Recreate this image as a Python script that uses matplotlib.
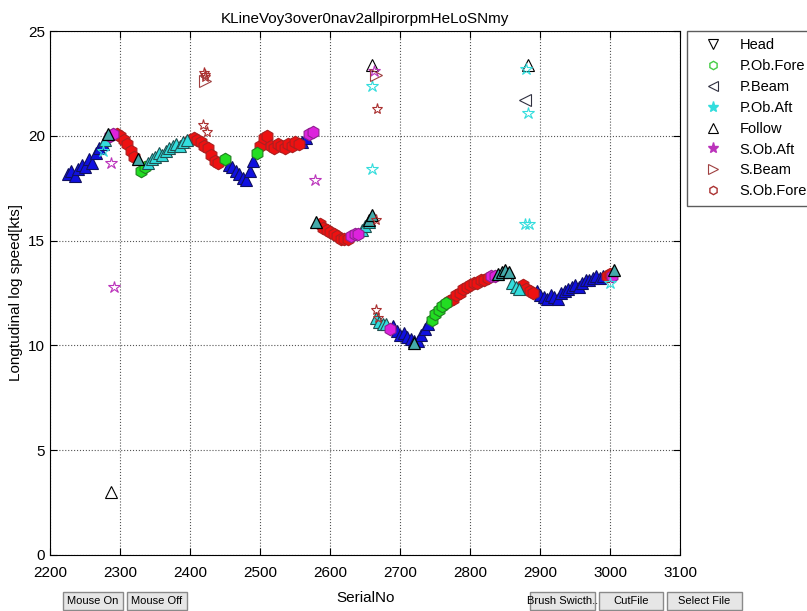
import matplotlib
matplotlib.use("Agg")
import matplotlib.pyplot as plt
from matplotlib.lines import Line2D
from matplotlib.patches import Rectangle

plt.rcParams["font.family"] = ["Liberation Sans", "DejaVu Sans"]

TITLE = "KLineVoy3over0nav2allpirorpmHeLoSNmy"

# main trace, grouped by the colour it is drawn in
blue_x = [2225, 2230, 2235, 2240, 2245, 2250, 2255, 2260, 2265, 2270, 2275,
          2455, 2460, 2465, 2470, 2475, 2480, 2485, 2490, 2560, 2565,
          2690, 2695, 2700, 2705, 2710, 2715, 2720, 2725, 2730, 2735, 2740,
          2895, 2900, 2905, 2910, 2915, 2920, 2925, 2930, 2935, 2940, 2945,
          2950, 2955, 2960, 2965, 2970, 2975, 2980, 2985, 2990]
blue_y = [18.2, 18.3, 18.1, 18.4, 18.6, 18.5, 18.9, 18.7, 19.2, 19.4, 19.6,
          18.6, 18.5, 18.3, 18.2, 18.0, 17.9, 18.3, 18.8, 19.7, 19.9,
          10.9, 10.7, 10.5, 10.6, 10.4, 10.3, 10.2, 10.2, 10.5, 10.8, 11.0,
          12.6, 12.4, 12.3, 12.2, 12.4, 12.3, 12.2, 12.5, 12.6, 12.7, 12.8,
          12.9, 12.8, 13.0, 13.1, 13.1, 13.2, 13.3, 13.2, 13.3]

red_x = [2295, 2300, 2305, 2310, 2315, 2320,
         2400, 2405, 2410, 2415, 2420, 2425, 2430, 2435, 2440,
         2500, 2505, 2510, 2515, 2520, 2525, 2530, 2535, 2540, 2545, 2550, 2555,
         2585, 2590, 2595, 2600, 2605, 2610, 2615, 2620, 2625,
         2770, 2775, 2780, 2785, 2790, 2795, 2800, 2805, 2810, 2815, 2820, 2825,
         2875, 2880, 2885, 2890, 2995, 3000]
red_y = [20.1, 20.0, 19.8, 19.6, 19.3, 19.0,
         19.8, 19.9, 19.8, 19.7, 19.5, 19.4, 19.1, 18.8, 18.7,
         19.5, 19.9, 20.0, 19.5, 19.4, 19.6, 19.5, 19.4, 19.6, 19.5, 19.7, 19.6,
         15.8, 15.6, 15.5, 15.4, 15.3, 15.2, 15.1, 15.1, 15.1,
         12.1, 12.2, 12.4, 12.5, 12.7, 12.8, 12.9, 13.0, 13.0, 13.1, 13.1, 13.2,
         12.9, 12.7, 12.6, 12.5, 13.3, 13.4]

green_x = [2330, 2335, 2450, 2495, 2745, 2750, 2755, 2760, 2765]
green_y = [18.3, 18.5, 18.9, 19.2, 11.2, 11.5, 11.7, 11.9, 12.0]

cyan_x = [2278, 2340, 2345, 2350, 2355, 2360, 2365, 2370, 2375, 2380, 2385,
          2390, 2395, 2645, 2650, 2655, 2665, 2670, 2675, 2680, 2860, 2865, 2870]
cyan_y = [19.8, 18.7, 18.9, 19.0, 19.2, 19.1, 19.3, 19.4, 19.5, 19.6, 19.5,
          19.7, 19.8, 15.5, 15.7, 15.9, 11.3, 11.1, 11.0, 11.0, 13.0, 12.8, 12.7]

magenta_x = [2285, 2290, 2570, 2575, 2630, 2635, 2640, 2685, 2830, 2835, 3003]
magenta_y = [20.0, 20.1, 20.1, 20.2, 15.2, 15.3, 15.3, 10.8, 13.3, 13.3, 13.3]

black_x = [2283, 2325, 2580, 2655, 2660, 2840, 2845, 2850, 2855, 2720, 3005]
black_y = [20.1, 18.9, 15.9, 16.0, 16.2, 13.4, 13.5, 13.6, 13.5, 10.1, 13.6]

# scattered points drawn in legend style
follow_x = [2287, 2660, 2882]
follow_y = [3.0, 23.4, 23.4]
sobaft_x = [2292, 2287, 2578, 2663]
sobaft_y = [12.8, 18.7, 17.9, 23.1]
pobaft_x = [2660, 2660, 2880, 2883, 2878, 2884, 3000, 2275]
pobaft_y = [22.4, 18.4, 23.2, 21.1, 15.8, 15.8, 13.0, 19.3]
sobfore_x = [2420, 2422, 2421, 2418, 2424, 2667, 2666, 2665, 2668]
sobfore_y = [23.0, 22.8, 22.9, 20.5, 20.2, 21.3, 16.0, 11.7, 11.3]
sbeam_x = [2665, 2421]
sbeam_y = [22.9, 22.6]
pbeam_x = [2878]
pbeam_y = [21.7]

legend_labels = ["Head", "P.Ob.Fore", "P.Beam", "P.Ob.Aft",
                 "Follow", "S.Ob.Aft", "S.Beam", "S.Ob.Fore"]

# GUI buttons under the plot: label, left px, width px
buttons = [("Mouse On", 63, 60), ("Mouse Off", 127, 60),
           ("Brush Swicth..", 530, 65), ("CutFile", 599, 64),
           ("Select File", 667, 75)]

W, H = 807, 611
fig = plt.figure(figsize=(W / 100, H / 100), dpi=100)
ax = fig.add_axes([0.062, 0.092, 0.781, 0.857])

ms = 9
ax.plot(blue_x, blue_y, "^", ms=ms, mfc="#1010e0", mec="#101060", mew=0.8)
ax.plot(red_x, red_y, "h", ms=ms, mfc="#ee1111", mec="#aa2020", mew=0.8)
ax.plot(green_x, green_y, "h", ms=ms, mfc="#22dd22", mec="#208020", mew=0.8)
ax.plot(cyan_x, cyan_y, "^", ms=ms, mfc="#33dddd", mec="#205050", mew=0.8)
ax.plot(magenta_x, magenta_y, "h", ms=ms, mfc="#dd22dd", mec="#902090", mew=0.8)
ax.plot(black_x, black_y, "^", ms=ms, mfc="#44aaaa", mec="black", mew=0.9)

ax.plot(follow_x, follow_y, "^", ms=8, mfc="none", mec="black", mew=0.8)
ax.plot(sobaft_x, sobaft_y, "*", ms=9, color="#bb33bb", mew=0.8, mfc="none")
ax.plot(pobaft_x, pobaft_y, "*", ms=9, color="#33dddd", mew=0.8, mfc="none")
ax.plot(sobfore_x, sobfore_y, "*", ms=8, mfc="none", mec="#aa3030", mew=0.8)
ax.plot(sbeam_x, sbeam_y, ">", ms=8, mfc="none", mec="#a04040", mew=0.8)
ax.plot(pbeam_x, pbeam_y, "<", ms=8, mfc="none", mec="#303040", mew=0.8)

ax.set_xlim(2200, 3100)
ax.set_ylim(0, 25)
ax.set_xticks(range(2200, 3101, 100))
ax.set_yticks(range(0, 26, 5))
ax.grid(True, ls=":", color="#555555", lw=0.8)
ax.tick_params(direction="in", labelsize=11, length=5, top=True, right=True)
ax.tick_params(axis="x", pad=8)
ax.set_xlabel("SerialNo", fontsize=11, labelpad=8)
ax.set_ylabel("Longtudinal log speed[kts]", fontsize=11)
ax.set_title(TITLE, fontsize=11)

handles = [
    Line2D([], [], ls="", marker="v", ms=7, mfc="none", mec="black", mew=0.8),
    Line2D([], [], ls="", marker="h", ms=6, mfc="none", mec="#44cc44"),
    Line2D([], [], ls="", marker="<", ms=7, mfc="none", mec="#303040", mew=0.8),
    Line2D([], [], ls="", marker="*", ms=8, color="#33dddd"),
    Line2D([], [], ls="", marker="^", ms=7, mfc="none", mec="black", mew=0.8),
    Line2D([], [], ls="", marker="*", ms=8, color="#bb33bb"),
    Line2D([], [], ls="", marker=">", ms=7, mfc="none", mec="#a04040", mew=0.8),
    Line2D([], [], ls="", marker="h", ms=6, mfc="none", mec="#aa3030"),
]
fig.legend(handles, legend_labels, loc="upper left",
           bbox_to_anchor=(687 / W, 1 - 31 / H), fontsize=10.5, frameon=True,
           fancybox=False, edgecolor="#333333", borderpad=0.5,
           handlelength=2.6, handletextpad=0.5, labelspacing=0.47,
           borderaxespad=0)

for label, left, width in buttons:
    fig.add_artist(Rectangle((left / W, 1 - 610 / H), width / W, 18 / H,
                             transform=fig.transFigure, fc="#e6e6e6",
                             ec="#8a8a8a", lw=1))
    fig.text((left + width / 2) / W, 1 - 601 / H, label, ha="center",
             va="center", fontsize=8)

fig.savefig("out.png", dpi=100)
